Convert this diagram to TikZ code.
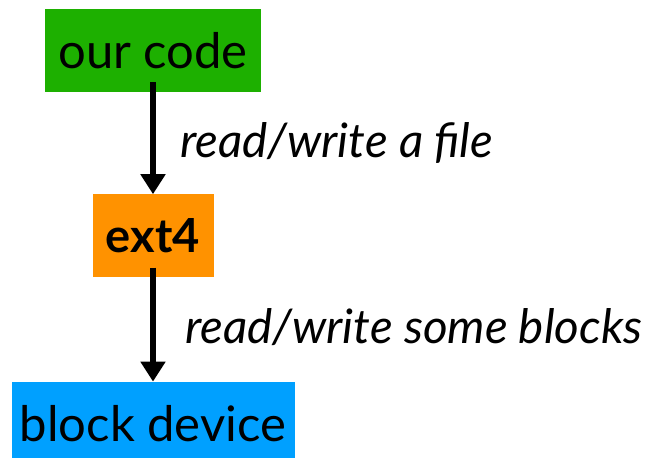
\documentclass[tikz,border=0pt]{standalone}
\usepackage{fontspec}
\setmainfont{Lato}
\usepackage{tikz}
\usetikzlibrary{positioning,arrows.meta}
\definecolor{codegreen}{RGB}{29,176,0}
\definecolor{fsorange}{RGB}{255,146,0}
\definecolor{devblue}{RGB}{0,160,255}
\tikzstyle{layer} = [rectangle, minimum height=83pt, inner sep=0pt, text centered, font=\fontsize{49}{52}\selectfont]
\tikzstyle{arrow} = [line width=6pt,-{Triangle[width=24pt,length=20pt]}]
\tikzstyle{op} = [anchor=west, inner sep=0pt, xshift=24pt, font=\fontsize{47.5}{50}\selectfont\itshape]

\begin{document}
\begin{tikzpicture}[x=1pt,y=-1pt,node distance=102pt]
        \clip (0,0) rectangle (646,458);
        \node (code) [layer, fill=codegreen, minimum width=216pt] at (153,50.5) {our code};
        \node (fs) [layer, fill=fsorange, minimum width=121pt, below=102pt of code, font=\fontsize{47}{50}\selectfont\bfseries] {ext4};
        \node (dev) [layer, fill=devblue, minimum width=283pt, below=104pt of fs] {block device};

        \draw [arrow] ([yshift=10pt]code.south) -- node[op, yshift=-5pt] {read/write a file} (fs);
        \draw [arrow] ([yshift=10pt]fs.south) -- node[op, xshift=5pt, yshift=-2pt] {read/write some blocks} (dev);
    \end{tikzpicture}
\end{document}
